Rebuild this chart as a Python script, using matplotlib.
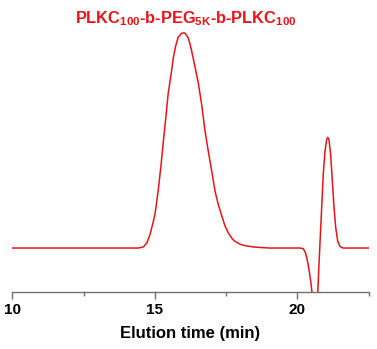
import matplotlib
matplotlib.use("Agg")
import matplotlib.pyplot as plt
from matplotlib.ticker import MultipleLocator

# elution time (min) and detector signal (a.u., main peak = 100)
time = [10.00, 14.42, 14.60, 14.72, 14.83, 14.95, 15.02, 15.12, 15.22, 15.30,
        15.38, 15.47, 15.57, 15.65, 15.73, 15.82, 15.94, 16.00, 16.06, 16.18,
        16.29, 16.41, 16.53, 16.65, 16.76, 16.88, 17.00, 17.11, 17.23, 17.35,
        17.46, 17.58, 17.70, 17.81, 17.99, 18.16, 18.46, 18.76, 19.04, 20.09,
        20.21, 20.29, 20.36, 20.42, 20.48, 20.51, 20.60, 20.72, 20.76, 20.81,
        20.86, 20.91, 20.97, 21.03, 21.07, 21.11, 21.17, 21.23, 21.29, 21.35,
        21.42, 21.50, 21.61, 22.50]
signal = [0.0, 0.0, 0.5, 2.3, 6.2, 12.4, 16.9, 26.7, 38.7, 49.6,
          59.7, 71.8, 80.6, 88.4, 93.8, 98.0, 99.8, 100.0, 99.9, 97.6,
          91.8, 84.3, 76.4, 66.2, 54.6, 44.8, 35.5, 26.7, 20.1, 15.0,
          10.4, 7.0, 4.6, 3.1, 1.8, 1.1, 0.5, 0.2, 0.0, 0.0,
          -0.3, -2.3, -6.2, -10.9, -16.3, -20.2, -30.0, -20.2, -7.8, 6.2,
          20.1, 34.1, 44.9, 50.4, 51.4, 50.4, 43.4, 31.0, 18.6, 9.3,
          3.1, 0.7, 0.0, 0.0]

RED = "#e8141a"

plt.rcParams["font.family"] = ["Liberation Sans", "DejaVu Sans"]
plt.rcParams["mathtext.fontset"] = "custom"
plt.rcParams["mathtext.rm"] = "Liberation Sans:bold"
plt.rcParams["mathtext.bf"] = "Liberation Sans:bold"
plt.rcParams["mathtext.default"] = "bf"

fig = plt.figure(figsize=(3.77, 3.49), dpi=100)
ax = fig.add_axes([0.0326, 0.1642, 0.945, 0.7785])

ax.plot(time, signal, color=RED, lw=1.1)

ax.set_xlim(10, 22.5)
ax.set_ylim(-20.3, 106)
ax.xaxis.set_major_locator(MultipleLocator(5))
ax.xaxis.set_minor_locator(MultipleLocator(2.5))
ax.set_yticks([])
for s in ("top", "left", "right"):
    ax.spines[s].set_visible(False)
ax.spines["bottom"].set_color("#707070")
ax.spines["bottom"].set_linewidth(1.0)
ax.tick_params(axis="x", which="major", length=5, width=1.0, color="#707070",
               labelsize=11, pad=3)
ax.tick_params(axis="x", which="minor", length=3, width=1.0, color="#707070")
for lab in ax.get_xticklabels():
    lab.set_fontweight("bold")

fig.text(0.5053, 0.0315, "Elution time (min)", ha="center", va="baseline",
         fontsize=12, fontweight="bold")
fig.text(0.4934, 0.9327, r"PLKC$_{100}$-b-PEG$_{5K}$-b-PLKC$_{100}$",
         ha="center", va="baseline", fontsize=11.8, fontweight="bold", color=RED)

fig.savefig("out.png", dpi=100)
